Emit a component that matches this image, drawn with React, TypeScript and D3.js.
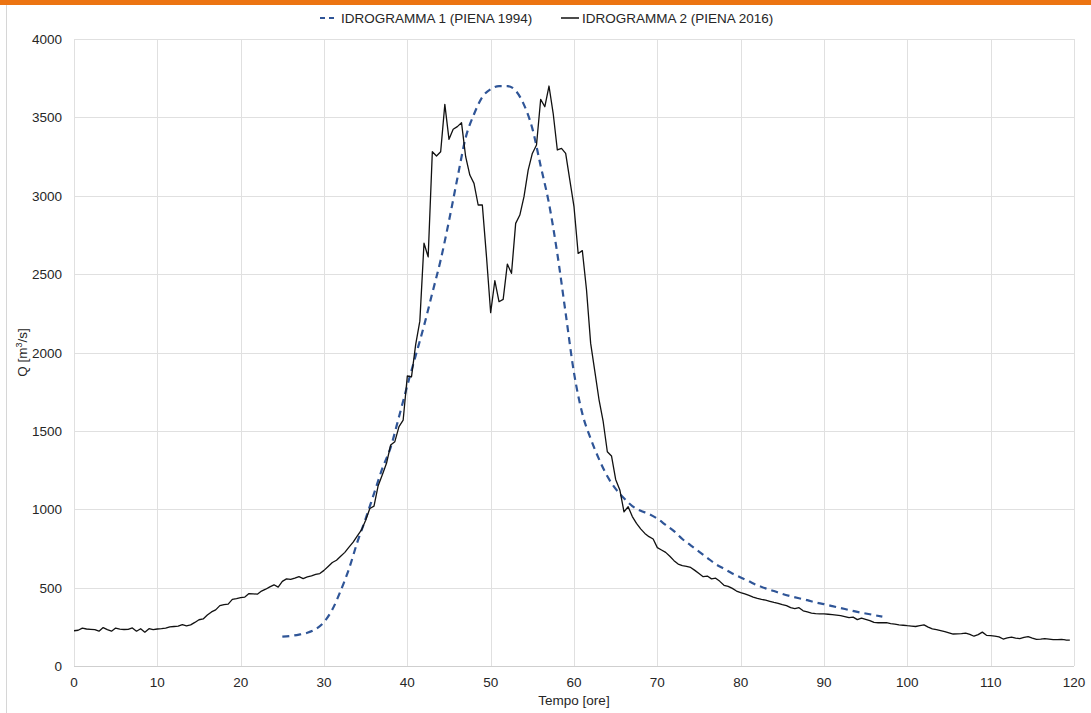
import React from 'react';
import * as d3 from 'd3';

// Idrogramma 1 (piena 1994): [ore, Q m3/s]
const piena1994: [number, number][] = [
  [25, 187], [26, 192], [27, 200], [28, 212], [29, 235], [30, 280], [31, 360], [32, 480],
  [33, 620], [34, 790], [35, 940], [36, 1100], [37, 1260], [38, 1395], [39, 1590], [40, 1790],
  [41, 1980], [42, 2170], [43, 2380], [44, 2590], [45, 2840], [46, 3110], [47, 3370], [48, 3520],
  [49, 3630], [50, 3680], [51, 3700], [52, 3700], [53, 3670], [54, 3580], [55, 3430], [56, 3190],
  [57, 2950], [58, 2630], [59, 2250], [60, 1870], [61, 1610], [62, 1450], [63, 1320], [64, 1210],
  [65, 1130], [66, 1070], [67, 1020], [68, 990], [69, 970], [70, 940], [71, 900], [72, 860],
  [73, 810], [74, 770], [75, 730], [76, 690], [77, 650], [78, 620], [79, 590], [80, 565],
  [81, 540], [82, 515], [83, 495], [84, 478], [85, 460], [86, 445], [87, 432], [88, 420],
  [89, 405], [90, 395], [91, 382], [92, 370], [93, 357], [94, 345], [95, 335], [96, 325], [97, 315],
];

// Idrogramma 2 (piena 2016): [ore, Q m3/s]
const piena2016: [number, number][] = [
  [0, 225], [0.5, 228], [1, 242], [1.5, 236], [2, 234], [2.5, 232], [3, 222], [3.5, 245],
  [4, 232], [4.5, 222], [5, 242], [5.5, 235], [6, 233], [6.5, 234], [7, 243], [7.5, 222],
  [8, 238], [8.5, 216], [9, 238], [9.5, 232], [10, 236], [10.5, 238], [11, 242], [11.5, 250],
  [12, 252], [12.5, 254], [13, 264], [13.5, 256], [14, 262], [14.5, 278], [15, 295], [15.5, 300],
  [16, 325], [16.5, 345], [17, 358], [17.5, 385], [18, 392], [18.5, 395], [19, 425], [19.5, 430],
  [20, 436], [20.5, 440], [21, 462], [21.5, 460], [22, 458], [22.5, 478], [23, 490], [23.5, 505],
  [24, 518], [24.5, 503], [25, 540], [25.5, 556], [26, 552], [26.5, 560], [27, 570], [27.5, 558],
  [28, 568], [28.5, 575], [29, 584], [29.5, 590], [30, 610], [30.5, 635], [31, 660], [31.5, 675],
  [32, 700], [32.5, 725], [33, 758], [33.5, 790], [34, 830], [34.5, 868], [35, 930], [35.5, 1005],
  [36, 1020], [36.5, 1150], [37, 1220], [37.5, 1293], [38, 1410], [38.5, 1431], [39, 1527], [39.5, 1569],
  [40, 1850], [40.5, 1845], [41, 2050], [41.5, 2200], [42, 2697], [42.5, 2610], [43, 3281], [43.5, 3254],
  [44, 3281], [44.5, 3583], [45, 3360], [45.5, 3424], [46, 3441], [46.5, 3466], [47, 3249], [47.5, 3132],
  [48, 3079], [48.5, 2941], [49, 2941], [49.5, 2611], [50, 2254], [50.5, 2458], [51, 2324], [51.5, 2339],
  [52, 2564], [52.5, 2505], [53, 2824], [53.5, 2877], [54, 2994], [54.5, 3164], [55, 3270], [55.5, 3324],
  [56, 3615], [56.5, 3568], [57, 3700], [57.5, 3526], [58, 3292], [58.5, 3302], [59, 3270], [59.5, 3100],
  [60, 2930], [60.5, 2632], [61, 2650], [61.5, 2400], [62, 2058], [62.5, 1880], [63, 1700], [63.5, 1560],
  [64, 1367], [64.5, 1340], [65, 1190], [65.5, 1123], [66, 984], [66.5, 1016], [67, 953], [67.5, 910],
  [68, 875], [68.5, 846], [69, 825], [69.5, 810], [70, 755], [70.5, 740], [71, 725], [71.5, 700],
  [72, 672], [72.5, 650], [73, 640], [73.5, 636], [74, 629], [74.5, 610], [75, 590], [75.5, 570],
  [76, 574], [76.5, 556], [77, 560], [77.5, 540], [78, 515], [78.5, 508], [79, 495], [79.5, 478],
  [80, 468], [80.5, 460], [81, 450], [81.5, 440], [82, 432], [82.5, 425], [83, 420], [83.5, 413],
  [84, 406], [84.5, 400], [85, 392], [85.5, 385], [86, 372], [86.5, 366], [87, 372], [87.5, 352],
  [88, 345], [88.5, 338], [89, 334], [89.5, 332], [90, 332], [90.5, 330], [91, 328], [91.5, 325],
  [92, 322], [92.5, 315], [93, 308], [93.5, 312], [94, 296], [94.5, 306], [95, 298], [95.5, 290],
  [96, 278], [96.5, 276], [97, 276], [97.5, 276], [98, 270], [98.5, 267], [99, 262], [99.5, 260],
  [100, 257], [100.5, 255], [101, 252], [101.5, 258], [102, 262], [102.5, 248], [103, 237], [103.5, 232],
  [104, 226], [104.5, 220], [105, 212], [105.5, 204], [106, 205], [106.5, 206], [107, 210], [107.5, 202],
  [108, 190], [108.5, 200], [109, 216], [109.5, 196], [110, 194], [110.5, 190], [111, 186], [111.5, 172],
  [112, 180], [112.5, 184], [113, 178], [113.5, 175], [114, 182], [114.5, 187], [115, 178], [115.5, 170],
  [116, 172], [116.5, 175], [117, 172], [117.5, 168], [118, 168], [118.5, 170], [119, 166], [119.5, 165],
];

const xTicks = [0, 10, 20, 30, 40, 50, 60, 70, 80, 90, 100, 110, 120];
const yTicks = [0, 500, 1000, 1500, 2000, 2500, 3000, 3500, 4000];

const W = 1091;
const H = 713;
const FONT = "'Liberation Sans', Arial, sans-serif";

export default function App() {
  const x = d3.scaleLinear().domain([0, 120]).range([74, 1074]);
  const y = d3.scaleLinear().domain([0, 4000]).range([666, 39]);

  const line = d3.line<[number, number]>().x(d => x(d[0])).y(d => y(d[1]));
  const smooth = d3.line<[number, number]>().x(d => x(d[0])).y(d => y(d[1])).curve(d3.curveMonotoneX);

  return (
    <svg width={W} height={H} style={{ position: 'absolute', left: 0, top: 0, background: '#fff' }} fontFamily={FONT}>
      <rect x={0} y={0} width={W} height={5} fill="#ec7412" />
      <line x1={6.5} x2={6.5} y1={5} y2={H} stroke="#d6d6d6" />

      {/* griglia */}
      {yTicks.map(t => (
        <line key={'gy' + t} x1={x(0)} x2={x(120)} y1={Math.round(y(t)) + 0.5} y2={Math.round(y(t)) + 0.5}
          stroke={t === 0 ? '#cfcfcf' : '#e0e0e0'} />
      ))}
      {xTicks.map(t => (
        <line key={'gx' + t} x1={Math.round(x(t)) + 0.5} x2={Math.round(x(t)) + 0.5} y1={y(4000)} y2={y(0)}
          stroke="#e0e0e0" />
      ))}

      {/* etichette assi */}
      {yTicks.map(t => (
        <text key={'ly' + t} x={62} y={y(t) + 5} textAnchor="end" fontSize={13.5} fill="#262626">{t}</text>
      ))}
      {xTicks.map(t => (
        <text key={'lx' + t} x={x(t)} y={687} textAnchor="middle" fontSize={13.5} fill="#262626">{t}</text>
      ))}
      <text x={x(60)} y={705} textAnchor="middle" fontSize={13.5} fill="#262626">Tempo [ore]</text>
      <text transform={`translate(27,${y(2000)}) rotate(-90)`} textAnchor="middle" fontSize={13.5} fill="#262626">
        Q [m<tspan baselineShift="super" fontSize={9}>3</tspan>/s]
      </text>

      {/* serie */}
      <path d={smooth(piena1994) ?? ''} fill="none" stroke="#2f5597" strokeWidth={2.2} strokeDasharray="7,5" />
      <path d={line(piena2016) ?? ''} fill="none" stroke="#111" strokeWidth={1.3} strokeLinejoin="round" />

      {/* legenda */}
      <line x1={320} x2={338} y1={18} y2={18} stroke="#2f5597" strokeWidth={2.2} strokeDasharray="5,4" />
      <text x={341} y={23} fontSize={13.5} fill="#262626">IDROGRAMMA 1 (PIENA 1994)</text>
      <line x1={561} x2={579} y1={18} y2={18} stroke="#111" strokeWidth={1.5} />
      <text x={582} y={23} fontSize={13.5} fill="#262626">IDROGRAMMA 2 (PIENA 2016)</text>
    </svg>
  );
}
